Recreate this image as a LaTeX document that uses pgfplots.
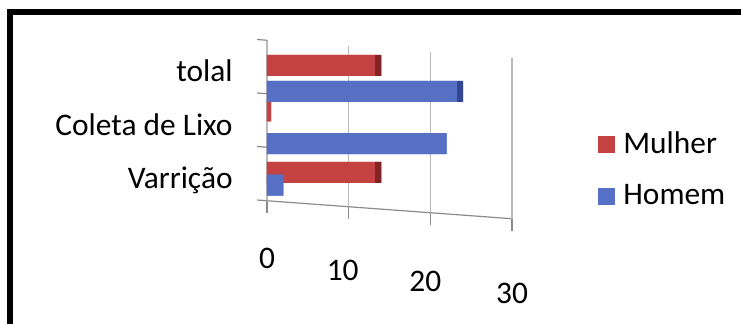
\documentclass[border=0pt]{standalone}
\usepackage{fontspec}
\setmainfont{Carlito}
\usepackage{pgfplots}
\pgfplotsset{compat=1.18}
\definecolor{mred}{RGB}{196,66,66}
\definecolor{mredd}{RGB}{130,36,36}
\definecolor{mblue}{RGB}{86,112,198}
\definecolor{mblued}{RGB}{52,70,145}
\definecolor{gridc}{RGB}{185,185,185}
\newcommand{\lblfont}{\fontsize{15.7pt}{18pt}\selectfont}
\begin{document}
\begin{tikzpicture}
\useasboundingbox (0,0) rectangle (370.5pt,-162pt);
\draw[line width=3pt] (5pt,-175pt) -- (5pt,-6pt) -- (380pt,-6pt);
\begin{axis}[
  at={(133.5pt,-87pt)}, anchor=origin,
  x={(4.085pt,-0.3pt)}, y={(0pt,26.75pt)},
  xmin=0, xmax=30, ymin=-0.5, ymax=2.5,
  axis lines*=left,
  axis line style={gridc!75!black, line width=0.6pt},
  xmajorgrids, grid style={gridc, line width=0.6pt},
  xtick={0,10,20,30},
  xticklabels={{0},{\kern-6pt\raisebox{-3pt}[\height][\depth]{10}},{\kern-5pt\raisebox{-5.5pt}[\height][\depth]{20}},{\raisebox{-8.5pt}[\height][\depth]{30}}},
  xticklabel style={anchor=north, inner sep=0pt, yshift=-23.5pt, font=\lblfont},
  ytick={0,1,2},
  yticklabels={Varrição,Coleta de Lixo,tolal},
  yticklabel style={anchor=base east, inner sep=0pt, xshift=-17pt, yshift=-7.5pt, font=\lblfont},
  major tick length=0pt,
  extra y ticks={-0.5,0.5,1.5,2.5},
  extra y tick labels={},
  extra y tick style={major tick length=5pt, tick align=outside, tick style={gridc!75!black, line width=0.6pt}, grid=none},
  extra x ticks={0,10,20,30},
  extra x tick labels={},
  extra x tick style={major tick length=6pt, tick align=outside, tick style={gridc!75!black, line width=0.6pt}},
  xbar, bar width=10.5pt,
]
\addplot[fill=mred, draw=none, bar shift=5pt,
  postaction={path picture={\fill[mredd] ([xshift=-3pt]path picture bounding box.north east) rectangle (path picture bounding box.south east);}}]
  coordinates {(14,0) (0.5,1) (14,2)};
\addplot[fill=mblue, draw=none, bar shift=-5pt,
  postaction={path picture={\fill[mblued] ([xshift=-3pt]path picture bounding box.north east) rectangle (path picture bounding box.south east);}}]
  coordinates {(2,0) (22,1) (24,2)};
\end{axis}
\begin{axis}[
  at={(299pt,-85pt)}, anchor=west,
  scale only axis, width=10pt, height=10pt,
  hide axis, xmin=0, xmax=1, ymin=0, ymax=1,
  legend style={at={(0,0.5)}, anchor=west, draw=none, fill=none, inner sep=0pt, row sep=12pt, column sep=3pt, font=\lblfont, nodes={inner sep=1pt}},
  legend cell align=left,
  legend image code/.code={\fill[#1] (0pt,-4.25pt) rectangle (8.5pt,4.25pt);},
]
\addlegendimage{fill=mred, draw=none}
\addlegendentry{Mulher}
\addlegendimage{fill=mblue, draw=none}
\addlegendentry{Homem}
\end{axis}
\end{tikzpicture}
\end{document}
